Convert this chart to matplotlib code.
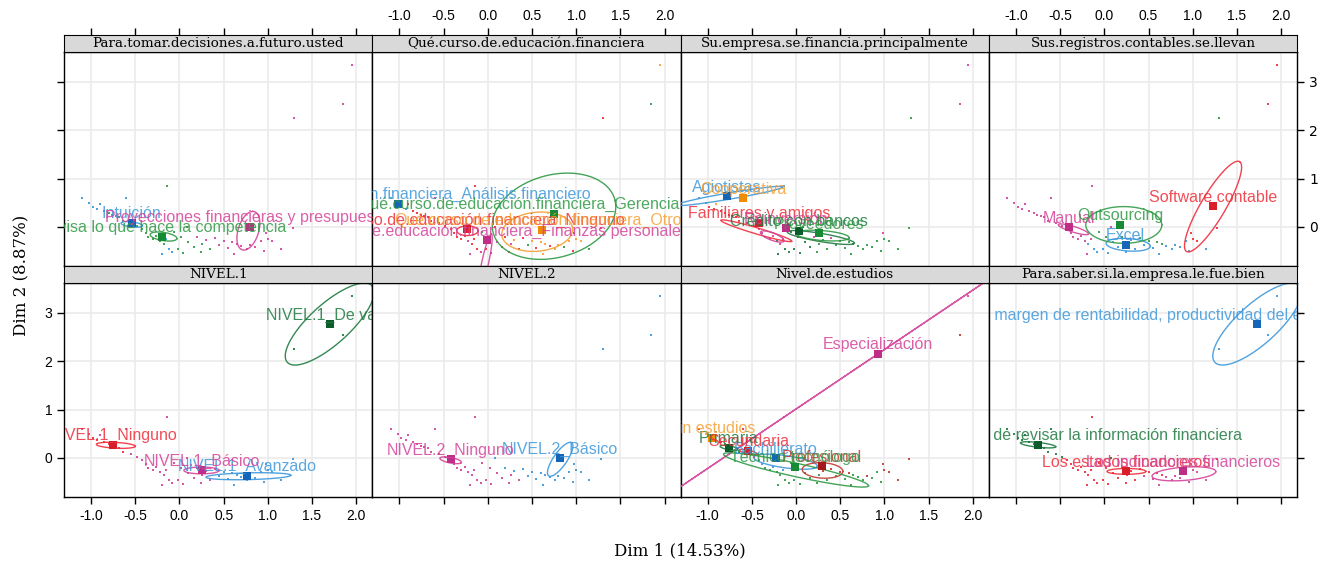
import numpy as np
import matplotlib
matplotlib.use('Agg')
import matplotlib.pyplot as plt

plt.rcParams['axes.unicode_minus'] = False

# coordinates of the individuals (Dim 1, Dim 2)
IND_X = [-1.10, -1.02, -0.98, -0.93, -0.90, -0.85, -0.80, -0.76, -0.72, -0.68,
         -0.60, -0.64, -0.14, -0.55, -0.48, -0.42, -0.38, -0.35, -0.30, -0.26,
         -0.22, -0.18, -0.15, -0.12, -0.08, -0.02, 0.04, -0.06, 0.02, 0.10,
         0.16, 0.20, 0.26, 0.30, 0.35, 0.40, 0.45, 0.50, 0.55, 0.60,
         0.65, 0.70, 0.76, 0.80, 0.86, 0.92, 0.98, 1.00, 1.05, 1.15,
         1.28, 0.62, 0.24, -0.20, 0.08, 0.96, 1.30, 1.85, 1.95]
IND_Y = [0.60, 0.50, 0.42, 0.36, 0.47, 0.32, 0.28, 0.25, 0.22, 0.20,
         0.60, 0.12, 0.85, 0.08, 0.02, -0.05, -0.12, -0.20, -0.25, -0.18,
         -0.30, -0.36, -0.26, -0.45, -0.52, -0.46, -0.55, -0.10, -0.20, -0.32,
         -0.42, -0.22, -0.36, -0.28, -0.46, -0.24, -0.38, -0.30, -0.44, -0.32,
         -0.36, -0.40, -0.46, -0.38, -0.42, -0.30, -0.12, -0.26, -0.30, -0.46,
         -0.02, -0.56, -0.52, -0.56, 0.00, -0.50, 2.25, 2.55, 3.35]

TITLES = ["Para.tomar.decisiones.a.futuro.usted", "Qué.curso.de.educación.financiera",
          "Su.empresa.se.financia.principalmente", "Sus.registros.contables.se.llevan",
          "NIVEL.1", "NIVEL.2", "Nivel.de.estudios", "Para.saber.si.la.empresa.le.fue.bien"]

# panel 1
CATS_1 = ["Intuición", "Revisa lo que hace la competencia",
          "Proyecciones financieras y presupuestos"]
CODES_1 = "0000001001" "0110111111" "1100011111" "1212122222" "2222222222" "221012222"
CX_1 = [-0.54, -0.20, 0.80]
CY_1 = [0.09, -0.20, 0.00]
ELL_1 = [(-0.54, 0.05, 0.12, -0.03, 0.01, 0.05), (-0.18, -0.20, 0.15, -0.05, 0.02, 0.08),
         (0.78, -0.08, 0.05, 0.40, 0.12, 0.0)]

# panel 2
Q = "Qué.curso.de.educación.financiera_"
CATS_2 = [Q + "Análisis financiero", Q + "Gerencia", Q + "Ninguno", Q + "Otros",
          Q + "Finanzas personales"]
CODES_2 = "0020222222" "2222222222" "4222422124" "4243221323" "3233131331" "232422213"
CX_2 = [-1.02, 0.755, -0.23, 0.615, -0.01]
CY_2 = [0.48, 0.27, -0.05, -0.06, -0.28]
ELL_2 = [None, (0.75, 0.22, 0.69, 0.33, 0.11, -0.83), (-0.23, -0.08, 0.12, 0.0, 0.0, 0.10),
         (0.56, -0.10, 0.40, 0.08, 0.03, -0.40), (-0.03, -0.75, 0.07, 0.60, 0.04, 0.0)]

# panel 3
CATS_3 = ["Agiotistas", "Cooperativa", "Familiares y amigos", "Reinversión",
          "Crédito con bancos", "Proveedores"]
CODES_3 = "0022122222" "0202233333" "4334444444" "4355535555" "5555553555" "555445533"
CX_3 = [-0.78, -0.60, -0.42, -0.11, 0.03, 0.26]
CY_3 = [0.63, 0.59, 0.09, -0.03, -0.08, -0.13]
ELL_3 = [(-0.75, 0.64, 0.60, 0.19, 0.02, -0.06), None, (-0.45, -0.08, 0.40, -0.22, 0.03, 0.05),
         (-0.27, -0.20, 0.13, -0.10, 0.03, 0.06), (0.28, -0.22, 0.38, -0.12, 0.02, 0.08),
         (0.30, -0.18, 0.30, -0.05, 0.02, 0.10)]

# panel 4
CATS_4 = ["Excel", "Manual", "Outsourcing", "Software contable"]
CODES_4 = "1111111111" "1111111111" "1010000220" "0200020202" "2000003330" "300110233"
CX_4 = [0.24, -0.40, 0.18, 1.23]
CY_4 = [-0.37, -0.01, 0.04, 0.43]
ELL_4 = [(0.27, -0.37, 0.25, -0.03, 0.0, 0.13), (-0.35, -0.05, 0.17, -0.10, 0.02, 0.05),
         (0.22, 0.04, 0.43, 0.0, 0.0, 0.38), (1.23, 0.42, 0.30, 0.93, 0.12, -0.13)]

# panel 5
CATS_5 = ["NIVEL.1_Avanzado", "NIVEL.1_Básico", "NIVEL.1_De valor", "NIVEL.1_Ninguno"]
CODES_5 = "1133133333" "1311111111" "1111111111" "1111110000" "0000000000" "001110222"
CX_5 = [0.77, 0.25, 1.70, -0.75]
CY_5 = [-0.37, -0.26, 2.77, 0.27]
ELL_5 = [(0.78, -0.38, 0.48, 0.02, 0.0, 0.07), (0.25, -0.26, 0.20, 0.0, 0.0, 0.07),
         (1.70, 2.77, 0.48, 0.79, 0.15, -0.31), (-0.72, 0.26, 0.22, -0.02, 0.0, 0.06)]

# panel 6
CATS_6 = ["NIVEL.2_Básico", "NIVEL.2_Ninguno"]
CODES_6 = "1111111111" "1111111111" "1111111111" "1010100000" "0000000000" "001100000"
CX_6 = [0.82, -0.42]
CY_6 = [-0.01, -0.03]
ELL_6 = [(0.82, -0.03, 0.12, 0.35, 0.08, -0.03), (-0.42, -0.05, 0.12, -0.05, 0.02, 0.05)]

# panel 7
CATS_7 = ["Bachillerato", "Especialización", "Primaria", "Profesional", "Secundaria",
          "Sin estudios", "Técnico tecnólogo"]
CODES_7 = "4545542222" "4214400660" "6606666606" "6063636363" "6663663333" "366666031"
CX_7 = [-0.23, 0.925, -0.76, 0.29, -0.54, -0.95, -0.01]
CY_7 = [-0.01, 2.15, 0.21, -0.17, 0.15, 0.42, -0.18]
ELL_7 = [(-0.12, -0.08, 0.36, -0.10, 0.03, 0.12), (0.925, 2.15, 2.6, 3.2, 0.0, 0.0),
         (-0.76, 0.21, 0.10, -0.03, 0.0, 0.04), (0.30, -0.26, 0.23, -0.02, 0.0, 0.16),
         (-0.54, 0.12, 0.10, -0.04, 0.0, 0.04), None, (0.0, -0.25, 0.82, -0.33, 0.03, 0.13)]

# panel 8
CATS_8 = ["Los estados financieros", "Los indicadores financieros",
          "No tiene la necesidad de revisar la información financiera",
          "Por el margen de rentabilidad, productividad del ejercicio y el crecimiento de las ventas"]
CODES_8 = "2222222222" "2202200000" "0000000000" "0000001010" "0111111111" "010021333"
CX_8 = [0.25, 0.895, -0.75, 1.73]
CY_8 = [-0.28, -0.28, 0.27, 2.77]
ELL_8 = [(0.25, -0.28, 0.22, 0.0, 0.0, 0.06), (0.90, -0.33, 0.36, 0.04, 0.02, 0.14),
         (-0.75, 0.27, 0.20, -0.04, 0.0, 0.05), (1.73, 2.77, 0.48, 0.79, 0.15, -0.31)]

# (light colour for points/lines/labels, dark colour for centroid)
PAL = {
    'blue': ('#3D98DC', '#1565B8'),
    'green': ('#2F9A45', '#178A35'),
    'dgreen': ('#1F7A40', '#0B5C2A'),
    'pink': ('#D4449A', '#BE2E86'),
    'red': ('#EE2E3A', '#D81E28'),
    'orange': ('#F6A032', '#F08C00'),
    'dred': ('#C23A30', '#A5181C'),
}
PANEL_COLORS = [
    ['blue', 'green', 'pink'],
    ['blue', 'green', 'red', 'orange', 'pink'],
    ['blue', 'orange', 'red', 'pink', 'dgreen', 'green'],
    ['blue', 'pink', 'green', 'red'],
    ['blue', 'pink', 'dgreen', 'red'],
    ['blue', 'pink'],
    ['blue', 'pink', 'dgreen', 'dred', 'red', 'orange', 'green'],
    ['red', 'pink', 'dgreen', 'blue'],
]
# label nudges (data units along Dim 1) where the text sits off its square
LABEL_SHIFT = {Q + "Gerencia": -0.40}

PANELS = [
    (CATS_1, CODES_1, CX_1, CY_1, ELL_1), (CATS_2, CODES_2, CX_2, CY_2, ELL_2),
    (CATS_3, CODES_3, CX_3, CY_3, ELL_3), (CATS_4, CODES_4, CX_4, CY_4, ELL_4),
    (CATS_5, CODES_5, CX_5, CY_5, ELL_5), (CATS_6, CODES_6, CX_6, CY_6, ELL_6),
    (CATS_7, CODES_7, CX_7, CY_7, ELL_7), (CATS_8, CODES_8, CX_8, CY_8, ELL_8),
]

W, H = 1332, 564
XLIM = (-1.306, 2.182)
YLIM = (-0.81, 3.62)
XTICKS = [-1.0, -0.5, 0.0, 0.5, 1.0, 1.5, 2.0]
YTICKS = [0, 1, 2, 3]
LABEL_FONT = 'Liberation Sans'
SERIF = 'DejaVu Serif'


def frac(x0, y0, w, h):
    return [x0 / W, 1 - (y0 + h) / H, w / W, h / H]


fig = plt.figure(figsize=(W / 100, H / 100), dpi=100)
ind_x = np.array(IND_X)
ind_y = np.array(IND_Y)
t = np.linspace(0, 2 * np.pi, 240)

col_w = 308.3
plot_h = 214
strip_h = 17
row_top = [52, 283]

for k, (cats, codes, cx, cy, ells) in enumerate(PANELS):
    row, col = divmod(k, 4)
    left = 64 + col * col_w
    top = row_top[row]
    ax = fig.add_axes(frac(left, top, col_w, plot_h))
    sax = fig.add_axes(frac(left, top - strip_h, col_w, strip_h))
    colors = PANEL_COLORS[k]
    codes = np.array([int(c) for c in codes])

    ax.set_xlim(XLIM)
    ax.set_ylim(YLIM)
    for xv in XTICKS:
        ax.axvline(xv, color='#EBEBEB', lw=1.2, zorder=0)
    for yv in YTICKS:
        ax.axhline(yv, color='#EBEBEB', lw=1.2, zorder=0)

    # individuals
    for i, cname in enumerate(colors):
        m = codes == i
        ax.scatter(ind_x[m], ind_y[m], s=3.5, marker='s', color=PAL[cname][0],
                   linewidths=0, alpha=0.9, zorder=2)
    # ellipses
    for i, e in enumerate(ells):
        if e is None:
            continue
        ecx, ecy, ux, uy, vx, vy = e
        ax.plot(ecx + ux * np.cos(t) + vx * np.sin(t), ecy + uy * np.cos(t) + vy * np.sin(t),
                color=PAL[colors[i]][0], lw=1.0, alpha=0.9, zorder=3)
    # centroids and labels
    for i, name in enumerate(cats):
        light, dark = PAL[colors[i]]
        ax.scatter([cx[i]], [cy[i]], s=34, marker='s', color=dark, linewidths=0, zorder=4)
        lx = cx[i] + LABEL_SHIFT.get(name, 0.0)
        ax.annotate(name, (lx, cy[i]), xytext=(0, 6.5), textcoords='offset points',
                    ha='center', va='center', fontsize=11.5, family=LABEL_FONT,
                    color=light, alpha=0.85, clip_on=True, zorder=5,
                    annotation_clip=False)

    for sp in ax.spines.values():
        sp.set_linewidth(1.0)
    ax.set_xticks(XTICKS)
    ax.set_yticks(YTICKS)
    ax.set_xticklabels(['%.1f' % v for v in XTICKS])
    ax.set_yticklabels([str(v) for v in YTICKS])
    ax.tick_params(direction='out', length=5, width=1, labelsize=10)
    for lab in ax.get_xticklabels() + ax.get_yticklabels():
        lab.set_family(LABEL_FONT)

    # lattice style alternating axes
    if row == 0:
        ax.tick_params(bottom=False, labelbottom=False, top=False, labeltop=False)
    else:
        ax.tick_params(bottom=True, labelbottom=(col in (0, 2)), top=False, labeltop=False)
    ax.tick_params(left=(col == 0), labelleft=(col == 0 and row == 1),
                   right=(col == 3), labelright=(col == 3 and row == 0))

    # strip
    sax.set_facecolor('#D9D9D9')
    sax.set_xlim(XLIM)
    sax.set_ylim(0, 1)
    sax.set_yticks([])
    sax.text(0.5, 0.48, TITLES[k], transform=sax.transAxes, ha='center', va='center',
             fontsize=9.7, family=SERIF)
    if row == 0:
        sax.set_xticks(XTICKS)
        sax.set_xticklabels(['%.1f' % v for v in XTICKS])
        sax.xaxis.tick_top()
        sax.tick_params(direction='out', length=5, width=1, labelsize=10,
                        labeltop=(col in (1, 3)), bottom=False, labelbottom=False)
        for lab in sax.get_xticklabels():
            lab.set_family(LABEL_FONT)
    else:
        sax.set_xticks([])

fig.text(680 / W, 1 - 551 / H, 'Dim 1 (14.53%)', ha='center', va='center',
         fontsize=12, family=SERIF)
fig.text(22 / W, 1 - 275 / H, 'Dim 2 (8.87%)', ha='center', va='center',
         rotation=90, fontsize=12, family=SERIF)

fig.savefig('out.png', dpi=100)
